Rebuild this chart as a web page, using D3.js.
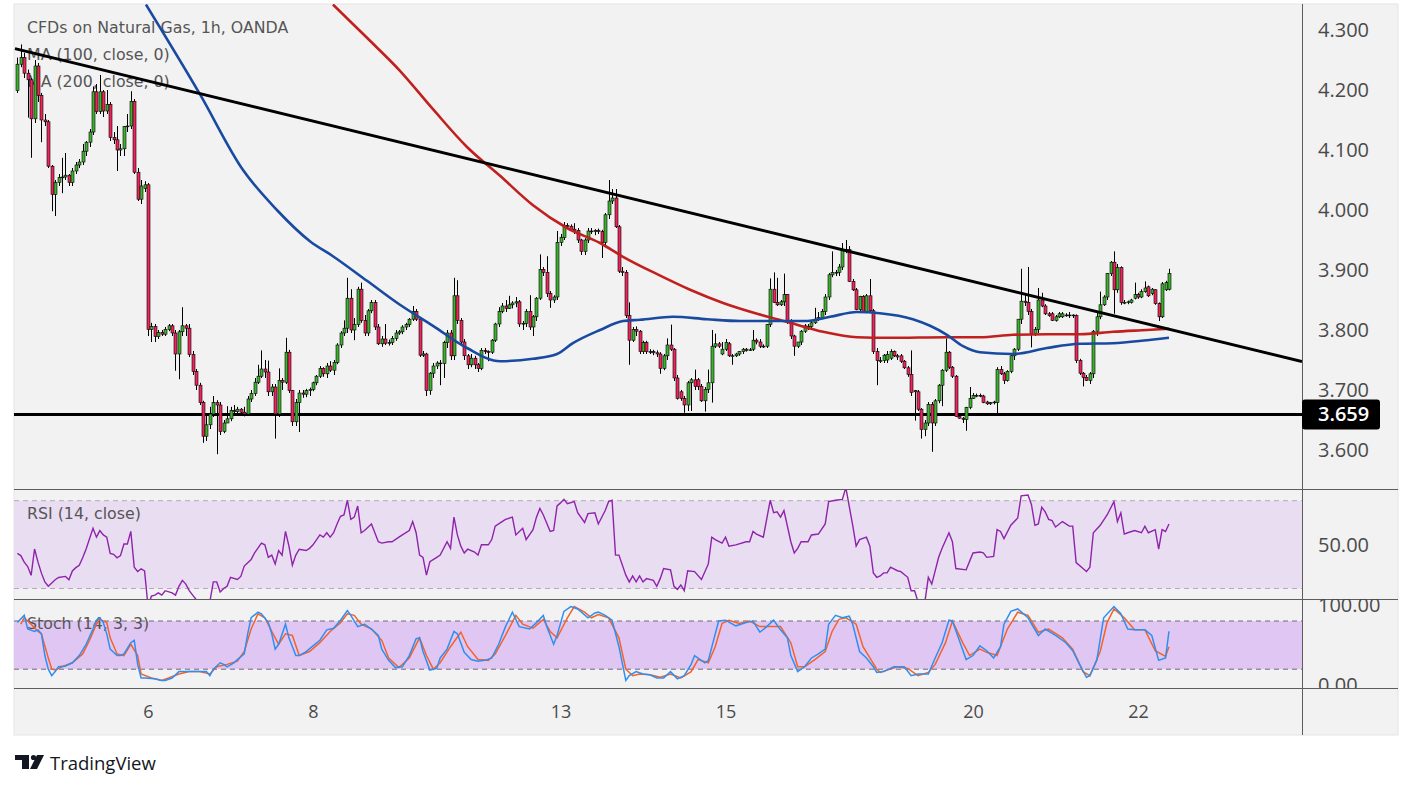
<!DOCTYPE html>
<html>
<head>
<meta charset="utf-8">
<script src="https://cdn.jsdelivr.net/npm/d3@7"></script>
<style>
body { margin: 0; background: #fff; }
svg { display: block; }
</style>
</head>
<body>
<script>
// hourly candles, one value per bar
const opens = [4.199,4.243,4.254,4.228,4.217,4.152,4.240,4.191,4.150,4.147,
4.073,4.026,4.046,4.054,4.055,4.058,4.046,4.065,4.075,4.080,
4.098,4.113,4.130,4.197,4.164,4.197,4.165,4.176,4.121,4.117,
4.100,4.102,4.139,4.140,4.181,4.063,4.018,4.036,4.042,3.801,
3.806,3.789,3.796,3.793,3.801,3.807,3.795,3.760,3.797,3.807,
3.803,3.759,3.731,3.708,3.679,3.623,3.642,3.660,3.679,3.675,
3.631,3.645,3.652,3.666,3.664,3.668,3.663,3.660,3.685,3.694,
3.713,3.723,3.735,3.730,3.697,3.705,3.660,3.716,3.713,3.763,
3.699,3.647,3.679,3.695,3.693,3.699,3.701,3.712,3.723,3.736,
3.727,3.740,3.733,3.746,3.775,3.795,3.803,3.853,3.800,3.809,
3.868,3.816,3.795,3.832,3.846,3.805,3.777,3.785,3.778,3.779,
3.786,3.795,3.797,3.805,3.809,3.818,3.831,3.818,3.758,3.760,
3.699,3.728,3.740,3.745,3.744,3.779,3.795,3.757,3.857,3.816,
3.780,3.757,3.742,3.753,3.742,3.736,3.766,3.764,3.763,3.783,
3.810,3.831,3.840,3.836,3.842,3.845,3.847,3.810,3.811,3.831,
3.805,3.822,3.853,3.901,3.896,3.861,3.850,3.855,3.946,3.954,
3.974,3.973,3.968,3.966,3.950,3.931,3.950,3.965,3.964,3.966,
3.964,3.946,3.992,4.015,4.020,3.972,3.898,3.896,3.824,3.783,
3.801,3.798,3.764,3.779,3.764,3.764,3.762,3.760,3.736,3.757,
3.775,3.768,3.720,3.697,3.686,3.675,3.712,3.717,3.717,3.706,
3.682,3.701,3.712,3.773,3.777,3.760,3.768,3.777,3.757,3.757,
3.760,3.764,3.768,3.766,3.768,3.783,3.780,3.773,3.773,3.809,
3.868,3.846,3.842,3.847,3.859,3.815,3.790,3.773,3.780,3.798,
3.805,3.806,3.812,3.818,3.821,3.831,3.855,3.892,3.896,3.896,
3.905,3.933,3.934,3.881,3.867,3.834,3.856,3.831,3.857,3.832,
3.764,3.749,3.749,3.750,3.753,3.764,3.757,3.757,3.748,3.737,
3.726,3.699,3.697,3.668,3.634,3.645,3.676,3.645,3.682,3.708,
3.733,3.763,3.738,3.723,3.656,3.653,3.651,3.671,3.686,3.691,
3.691,3.690,3.680,3.677,3.679,3.679,3.734,3.727,3.716,3.731,
3.757,3.768,3.818,3.848,3.846,3.831,3.794,3.801,3.850,3.840,
3.827,3.827,3.816,3.822,3.822,3.825,3.825,3.824,3.824,3.749,
3.728,3.721,3.716,3.727,3.798,3.822,3.842,3.855,3.894,3.913,
3.867,3.904,3.846,3.846,3.846,3.853,3.859,3.855,3.864,3.872,
3.861,3.867,3.844,3.822,3.867,3.868]

const highs = [4.254,4.276,4.262,4.234,4.220,4.250,4.245,4.195,4.160,4.150,
4.075,4.050,4.060,4.087,4.095,4.060,4.070,4.080,4.085,4.110,
4.115,4.135,4.206,4.210,4.225,4.200,4.200,4.180,4.130,4.140,
4.110,4.140,4.160,4.198,4.185,4.070,4.050,4.048,4.045,3.812,
3.810,3.800,3.800,3.805,3.810,3.810,3.800,3.800,3.838,3.810,
3.810,3.765,3.735,3.712,3.682,3.660,3.672,3.690,3.683,3.680,
3.650,3.673,3.672,3.675,3.672,3.670,3.672,3.690,3.700,3.720,
3.742,3.766,3.750,3.749,3.710,3.710,3.736,3.720,3.787,3.767,
3.700,3.685,3.700,3.700,3.702,3.704,3.714,3.725,3.740,3.738,
3.745,3.748,3.750,3.778,3.798,3.816,3.887,3.868,3.820,3.872,
3.879,3.825,3.835,3.850,3.850,3.810,3.790,3.810,3.784,3.790,
3.800,3.800,3.808,3.812,3.820,3.840,3.835,3.820,3.765,3.762,
3.730,3.745,3.748,3.750,3.782,3.800,3.800,3.887,3.883,3.820,
3.785,3.760,3.760,3.757,3.745,3.770,3.770,3.766,3.785,3.812,
3.838,3.845,3.850,3.857,3.848,3.855,3.850,3.815,3.835,3.858,
3.825,3.855,3.926,3.905,3.923,3.865,3.858,3.965,3.960,3.980,
3.978,3.976,3.978,3.970,3.952,3.953,3.970,3.970,3.968,3.969,
3.967,3.995,4.050,4.035,4.035,3.975,3.905,3.900,3.846,3.805,
3.806,3.800,3.782,3.782,3.768,3.767,3.766,3.763,3.760,3.786,
3.809,3.770,3.725,3.700,3.690,3.715,3.720,3.734,3.720,3.710,
3.705,3.734,3.800,3.794,3.780,3.780,3.785,3.780,3.760,3.762,
3.765,3.770,3.770,3.770,3.800,3.786,3.785,3.776,3.810,3.886,
3.896,3.887,3.850,3.894,3.860,3.818,3.792,3.780,3.800,3.810,
3.810,3.815,3.837,3.830,3.835,3.860,3.895,3.931,3.900,3.910,
3.945,3.950,3.940,3.885,3.870,3.857,3.858,3.860,3.885,3.835,
3.770,3.755,3.760,3.765,3.768,3.766,3.760,3.760,3.750,3.740,
3.766,3.700,3.700,3.670,3.650,3.680,3.680,3.685,3.710,3.735,
3.786,3.765,3.740,3.725,3.660,3.655,3.672,3.705,3.695,3.694,
3.694,3.692,3.682,3.680,3.682,3.738,3.740,3.730,3.733,3.758,
3.770,3.818,3.902,3.860,3.905,3.835,3.805,3.870,3.862,3.843,
3.830,3.830,3.825,3.830,3.830,3.828,3.830,3.826,3.826,3.752,
3.730,3.725,3.730,3.800,3.830,3.864,3.858,3.895,3.915,3.931,
3.910,3.906,3.850,3.849,3.852,3.879,3.862,3.868,3.881,3.874,
3.870,3.868,3.846,3.880,3.882,3.902]

const lows = [4.195,4.238,4.220,4.154,4.087,4.145,4.180,4.113,4.140,4.070,
3.998,3.990,4.040,4.028,4.050,4.040,4.040,4.060,4.070,4.075,
4.090,4.105,4.125,4.160,4.160,4.155,4.160,4.115,4.110,4.065,
4.090,4.090,4.130,4.135,4.060,4.015,4.010,4.030,3.790,3.780,
3.780,3.785,3.790,3.790,3.798,3.790,3.732,3.718,3.790,3.790,
3.755,3.725,3.700,3.675,3.612,3.615,3.635,3.655,3.593,3.625,
3.628,3.645,3.648,3.660,3.658,3.660,3.656,3.657,3.680,3.690,
3.710,3.720,3.720,3.690,3.690,3.619,3.655,3.700,3.710,3.695,
3.640,3.640,3.630,3.687,3.688,3.690,3.698,3.708,3.720,3.722,
3.720,3.730,3.725,3.743,3.770,3.790,3.795,3.795,3.783,3.805,
3.812,3.790,3.790,3.828,3.800,3.775,3.772,3.775,3.774,3.775,
3.782,3.792,3.793,3.800,3.805,3.815,3.815,3.755,3.755,3.690,
3.692,3.720,3.735,3.708,3.720,3.770,3.750,3.750,3.810,3.775,
3.750,3.735,3.738,3.735,3.730,3.733,3.760,3.748,3.760,3.780,
3.805,3.828,3.830,3.835,3.836,3.838,3.805,3.800,3.805,3.800,
3.790,3.815,3.850,3.890,3.855,3.837,3.845,3.850,3.940,3.950,
3.970,3.965,3.960,3.945,3.925,3.925,3.945,3.960,3.958,3.960,
3.920,3.940,3.985,4.010,3.970,3.895,3.890,3.820,3.742,3.780,
3.790,3.760,3.760,3.760,3.760,3.758,3.755,3.727,3.733,3.750,
3.765,3.715,3.684,3.682,3.662,3.665,3.665,3.700,3.700,3.680,
3.664,3.695,3.679,3.770,3.770,3.758,3.765,3.755,3.742,3.755,
3.757,3.760,3.764,3.765,3.765,3.776,3.770,3.770,3.770,3.805,
3.845,3.840,3.840,3.840,3.810,3.785,3.757,3.770,3.775,3.795,
3.800,3.800,3.810,3.815,3.818,3.825,3.850,3.888,3.890,3.890,
3.900,3.928,3.880,3.865,3.833,3.830,3.830,3.828,3.830,3.760,
3.708,3.745,3.745,3.745,3.750,3.755,3.750,3.745,3.735,3.722,
3.690,3.649,3.665,3.619,3.623,3.640,3.597,3.640,3.678,3.673,
3.730,3.735,3.720,3.655,3.652,3.645,3.632,3.668,3.685,3.688,
3.688,3.678,3.675,3.675,3.676,3.660,3.725,3.710,3.714,3.728,
3.750,3.765,3.810,3.840,3.825,3.771,3.790,3.795,3.838,3.825,
3.822,3.815,3.814,3.820,3.820,3.822,3.820,3.820,3.745,3.725,
3.706,3.715,3.710,3.720,3.790,3.818,3.840,3.850,3.890,3.827,
3.862,3.842,3.843,3.843,3.844,3.851,3.852,3.853,3.862,3.855,
3.858,3.842,3.815,3.820,3.865,3.866]

const closes = [4.243,4.254,4.228,4.217,4.152,4.240,4.191,4.150,4.147,4.073,
4.026,4.046,4.054,4.055,4.058,4.046,4.065,4.075,4.080,4.098,
4.113,4.130,4.197,4.164,4.197,4.165,4.176,4.121,4.117,4.100,
4.102,4.139,4.140,4.181,4.063,4.018,4.040,4.042,3.801,3.806,
3.789,3.796,3.793,3.801,3.807,3.795,3.760,3.797,3.807,3.803,
3.759,3.731,3.708,3.679,3.623,3.642,3.660,3.679,3.675,3.631,
3.645,3.652,3.666,3.664,3.668,3.663,3.660,3.685,3.694,3.713,
3.723,3.735,3.730,3.697,3.705,3.660,3.716,3.713,3.763,3.699,
3.647,3.679,3.695,3.693,3.699,3.701,3.712,3.723,3.736,3.727,
3.740,3.733,3.746,3.775,3.795,3.803,3.853,3.800,3.809,3.868,
3.816,3.795,3.832,3.846,3.805,3.777,3.785,3.778,3.779,3.786,
3.795,3.797,3.805,3.809,3.818,3.831,3.818,3.758,3.760,3.699,
3.728,3.740,3.745,3.744,3.779,3.795,3.757,3.857,3.816,3.780,
3.757,3.742,3.753,3.742,3.736,3.766,3.764,3.763,3.783,3.810,
3.831,3.840,3.836,3.842,3.845,3.847,3.810,3.811,3.831,3.805,
3.822,3.853,3.901,3.896,3.861,3.850,3.855,3.946,3.954,3.974,
3.973,3.968,3.966,3.950,3.931,3.950,3.965,3.964,3.966,3.964,
3.946,3.992,4.015,4.020,3.972,3.898,3.896,3.824,3.783,3.801,
3.798,3.764,3.779,3.764,3.764,3.762,3.760,3.736,3.757,3.775,
3.768,3.720,3.686,3.686,3.675,3.712,3.717,3.706,3.706,3.682,
3.701,3.712,3.773,3.777,3.773,3.768,3.779,3.757,3.757,3.760,
3.764,3.768,3.766,3.767,3.783,3.780,3.773,3.773,3.809,3.868,
3.846,3.842,3.847,3.859,3.815,3.790,3.773,3.780,3.798,3.807,
3.806,3.812,3.818,3.821,3.831,3.855,3.892,3.896,3.896,3.905,
3.933,3.934,3.881,3.867,3.834,3.856,3.831,3.857,3.832,3.764,
3.749,3.749,3.758,3.759,3.764,3.757,3.755,3.748,3.737,3.726,
3.696,3.697,3.668,3.634,3.645,3.676,3.645,3.682,3.708,3.733,
3.763,3.738,3.723,3.656,3.653,3.651,3.671,3.686,3.691,3.691,
3.690,3.679,3.677,3.679,3.680,3.734,3.727,3.716,3.731,3.757,
3.768,3.818,3.848,3.846,3.831,3.794,3.801,3.850,3.840,3.827,
3.824,3.816,3.822,3.827,3.827,3.825,3.824,3.825,3.749,3.728,
3.721,3.716,3.727,3.798,3.822,3.842,3.855,3.894,3.913,3.867,
3.904,3.846,3.846,3.847,3.850,3.859,3.855,3.864,3.870,3.857,
3.868,3.844,3.822,3.877,3.879,3.894]

// moving averages, read at bar positions
const ma100Bars = [37.4,53.1,65.6,75.5,85.1,91.8,101.7,111.3,120.9,130.8,140.4,150,157,161.6,169.5,176.2,181.1,190.7,200.6,210.2,219.8,229.7,236.4,244.3,250.9,260.5,265.5,270.4,275.1,280,289.6,299.5,309.1,318.7,328.6,335]
const ma100Vals = [4.3425,4.193,4.067,4.000,3.948,3.923,3.882,3.842,3.807,3.770,3.748,3.752,3.760,3.778,3.800,3.815,3.817,3.822,3.818,3.815,3.815,3.815,3.822,3.830,3.828,3.818,3.807,3.792,3.773,3.763,3.760,3.770,3.777,3.778,3.783,3.787]
const ma200Bars = [91.8,101.7,111.3,120.9,130.8,140.4,150,159.9,169.5,176.2,186.1,195.7,205.3,215.2,224.8,234.4,244.3,253.9,270.4,280,289.6,299.5,309.1,318.7,328.6,335]
const ma200Vals = [4.3425,4.287,4.232,4.168,4.105,4.057,4.008,3.970,3.945,3.922,3.893,3.867,3.845,3.827,3.812,3.797,3.788,3.787,3.788,3.788,3.792,3.793,3.793,3.797,3.800,3.802]

// drawn trend line and support level
const trendBars = [-0.7, 373.7]
const trendPrices = [4.269, 3.7475]
const supportLevel = 3.659

// RSI (14)
const rsiBars = [0,1,2,3,4,5,6,7,8,9,11,12,14,15,16,17,18,19,20,22,23,24,25,26,27,28,29,30,31,32,33,34,35,36,37,38,39,40,41,42,43,45,46,47,48,49,50,51,52,53,54,55,56,57,58,59,60,61,62,64,65,66,68,69,71,72,73,74,75,76,77,78,79,80,81,82,84,85,86,88,89,90,91,92,93,94,95,96,97,98,99,100,101,103,105,106,108,109,111,112,114,115,116,117,118,119,120,122,123,125,126,127,128,129,130,131,133,134,135,137,138,139,141,142,144,145,147,148,150,151,152,153,155,156,157,158,159,160,162,163,165,166,168,169,171,172,173,174,175,177,178,179,180,181,182,183,185,186,187,188,190,191,192,193,194,195,197,199,201,202,203,205,206,207,209,212,213,214,215,217,219,220,221,222,223,225,226,227,228,230,231,233,235,236,238,240,241,243,244,245,247,248,249,250,251,252,253,254,256,257,259,260,261,262,263,264,265,266,268,269,271,272,273,276,278,280,281,282,284,285,286,287,289,291,292,294,295,296,297,298,299,300,301,302,304,306,307,308,310,311,312,313,315,317,319,320,321,322,323,325,327,328,329,331,332,333,334,335]
const rsiVals = [46,45,42,40,36,48,42,37,33,31,34,35,35.5,34,38,39.5,40.6,44,48,57.4,53.4,56.4,54.4,53.4,46,45.6,44,45,50.3,50.3,56,39.7,37.7,39,38,22,26.5,27,28,27,29,28,27,31,33.7,32,29,27,25,21,18,21,24,33,33,28.4,30,31,35.1,34.1,35.5,40.2,43.2,46.2,50.7,49.9,44.2,45.2,41.2,47.3,45.2,56,49.3,40.6,45.2,47.9,47.3,48.3,49.9,54.4,53.4,55.4,53.4,55.4,59.4,62.9,63.5,70.2,61.5,62.5,67.6,55.4,56.4,59.4,51.3,50.7,51.3,51.3,53.4,54.4,56.4,60.5,55.4,45.2,44.2,36.1,42.2,44.2,45.2,51.3,48.3,62.5,54.4,49.3,46.2,47.9,46.6,45.2,49.9,49.9,52.3,58.4,60.5,61.5,62.5,54.4,57.4,52.3,56.8,62.5,66.5,63.5,56,56.4,67.6,69,70.6,68.6,69.6,64.5,60.1,64.1,64.5,59.4,65.5,69.6,70.2,45.2,45.2,36.1,33,35.7,33,35.7,33,34.5,33.7,31,34.5,39.1,38.5,31,29.6,31.6,29,38.1,37.7,34.1,41.2,53.4,52.3,50.7,53.4,49.3,49.9,51.3,51.3,56,54.8,53.4,70.2,64.5,64.9,62.5,65.5,51.3,46.2,48.3,51.3,51.3,54.4,54.8,59.4,69.6,70.2,70.6,76,58.8,49.3,52.3,53.4,49.3,37.1,35.1,35.7,37.1,37.1,39.7,38.1,37.7,35.1,29,29,24,22,24,35.1,32,44.2,48.3,55.4,51.3,39.1,38.5,46.2,46.6,46.2,44.2,44.6,56.8,56,52.7,58.8,62.1,72.2,72.6,68.2,58.8,59.4,67,64.9,61.5,60.9,58,60.5,58.4,58.4,41.8,39.1,37.7,39.7,55.4,58.8,63.5,69.6,60.5,64.5,54.8,55.4,56.4,55.4,58.4,55.4,56.8,47.9,56.8,56,59.4]

// Stochastic (14, 3, 3): %K and %D
const kBars = [0,2,3,5,6,7,8,9,10,11,12,14,16,18,20,22,23,24,25,26,27,29,30,31,33,34,35,36,37,40,42,43,45,47,49,51,53,55,56,57,59,60,61,63,64,66,67,68,70,71,73,74,75,76,78,79,81,82,84,86,88,90,92,94,96,97,99,101,103,105,106,108,110,112,114,116,117,118,120,122,123,125,127,128,130,132,134,136,138,140,142,144,146,149,151,153,154,156,157,159,161,163,166,168,169,171,173,175,177,178,180,182,184,186,188,190,192,194,196,197,200,201,204,206,209,212,214,216,218,220,222,224,225,227,229,231,233,235,236,238,240,242,243,245,247,249,250,252,255,258,260,262,265,267,269,271,272,274,276,278,280,282,284,286,287,289,291,294,297,299,302,305,307,309,311,312,314,316,319,321,323,325,328,330,332,334,335]
const kVals = [78,87,70,67,69,64,37,20,12,17,23,24,28,37,51,70,81,84,78,64,45,37,37,39,53,56,26,9,9,8,6,6,9,17,17,17,17,17,12,20,28,26,23,28,32,39,64,84,91,89,78,64,45,51,76,59,37,37,42,49,56,69,71,81,93,87,73,76,70,62,45,31,22,23,37,58,59,42,19,21,34,45,67,64,41,32,30,31,34,51,73,91,73,70,78,87,73,51,62,92,98,95,84,90,91,87,81,48,6,12,17,14,13,9,9,17,8,12,26,37,28,31,80,81,74,78,80,66,73,81,69,59,37,17,23,34,39,45,76,87,84,86,76,42,34,23,16,17,23,23,12,14,14,34,53,81,80,56,32,37,49,43,34,48,76,92,95,84,62,70,62,53,43,26,10,12,31,84,98,89,70,69,69,62,31,34,67]
const dBars = [1,2,4,6,7,9,10,11,13,16,19,21,23,24,26,27,29,31,33,35,36,39,42,44,47,50,53,56,58,61,64,66,68,70,72,74,76,78,80,82,85,88,91,94,96,98,100,103,106,108,111,114,117,119,121,123,126,129,131,134,137,139,142,145,147,150,153,155,157,160,162,165,167,169,172,175,177,179,181,184,187,190,193,196,198,201,203,205,207,210,213,216,219,222,225,227,229,232,235,237,239,241,244,246,248,250,251,253,256,259,262,265,267,270,272,275,277,280,282,285,288,291,294,297,300,304,307,310,312,315,317,319,322,325,328,331,334,335]
const dVals = [76,84,76,67,64,34,20,19,23,28,39,56,76,82,78,59,39,37,51,37,14,9,6,9,14,17,17,14,23,26,30,42,70,89,84,67,51,64,62,37,42,53,67,78,89,87,76,70,56,34,22,34,59,37,20,28,48,66,48,32,31,39,62,87,76,71,82,67,59,84,98,91,84,88,84,59,20,12,14,13,10,14,9,17,32,28,48,77,81,77,80,73,73,73,53,23,23,32,42,67,82,84,76,48,34,20,16,19,23,21,12,16,26,53,80,53,37,45,41,37,70,91,87,66,70,59,45,17,12,42,78,95,84,69,69,43,36,48]

const priceTicks = [3.6, 3.7, 3.8, 3.9, 4.0, 4.1, 4.2, 4.3]
const dayBars = [38, 86, 158, 206, 278, 326]
const dayLabels = ["6", "8", "13", "15", "20", "22"]
const legendLines = ["CFDs on Natural Gas, 1h, OANDA", "MA (100, close, 0)", "MA (200, close, 0)"]

const WIDTH = 1413, HEIGHT = 789
const FRAME = { LEFT: 14, RIGHT: 1398, TOP: 4, BOTTOM: 735 }
const PLOT_RIGHT = 1302
const MAIN = { TOP: 4, BOTTOM: 489 }
const RSI = { TOP: 489, BOTTOM: 599 }
const STOCH = { TOP: 599, BOTTOM: 688 }
const TEXT = "#4a4a4a"
const LEGEND_FONT = "'DejaVu Sans', Verdana, sans-serif"
const UP = "#3db22e", DOWN = "#f0245c"

const svg = d3.select("body").append("svg")
  .attr("width", WIDTH)
  .attr("height", HEIGHT)
  .style("font-family", "'Open Sans', sans-serif")

const defs = svg.append("defs")
function clip(id, x0, y0, x1, y1) {
  defs.append("clipPath").attr("id", id)
    .append("rect").attr("x", x0).attr("y", y0).attr("width", x1 - x0).attr("height", y1 - y0)
  return `url(#${id})`
}
const clipMain = clip("cMain", FRAME.LEFT, MAIN.TOP, PLOT_RIGHT, MAIN.BOTTOM)
const clipRsi = clip("cRsi", FRAME.LEFT, RSI.TOP, PLOT_RIGHT, RSI.BOTTOM)
const clipStoch = clip("cStoch", FRAME.LEFT, STOCH.TOP, PLOT_RIGHT, STOCH.BOTTOM)
const clipStochAxis = clip("cStochAx", PLOT_RIGHT, STOCH.TOP, FRAME.RIGHT, STOCH.BOTTOM)
const clipRsiAxis = clip("cRsiAx", PLOT_RIGHT, RSI.TOP, FRAME.RIGHT, RSI.BOTTOM)

const x = d3.scaleLinear().domain([-0.98, 373.7]).range([FRAME.LEFT, PLOT_RIGHT])
const y = d3.scaleLinear().domain([3.6, 4.3]).range([450, 30])
const yRsi = d3.scaleLinear().domain([30, 70]).range([588.5, 500.7])
const yStoch = d3.scaleLinear().domain([20, 80]).range([669.2, 621.0])

// background frame
svg.append("rect")
  .attr("x", FRAME.LEFT).attr("y", FRAME.TOP)
  .attr("width", FRAME.RIGHT - FRAME.LEFT).attr("height", FRAME.BOTTOM - FRAME.TOP)
  .attr("fill", "#f2f2f2").attr("stroke", "#e3e4ea")

// legend text sits under the series
svg.append("g").selectAll("text").data(legendLines).join("text")
  .attr("x", 27).attr("y", (d, i) => 33 + i * 27)
  .attr("font-family", LEGEND_FONT).attr("font-size", 15.8).attr("fill", "#555")
  .text(d => d)

// indicator bands
svg.append("rect")
  .attr("x", FRAME.LEFT).attr("y", yRsi(70)).attr("width", PLOT_RIGHT - FRAME.LEFT)
  .attr("height", yRsi(30) - yRsi(70)).attr("fill", "#e9ddf2")
svg.append("rect")
  .attr("x", FRAME.LEFT).attr("y", yStoch(80)).attr("width", PLOT_RIGHT - FRAME.LEFT)
  .attr("height", yStoch(20) - yStoch(80)).attr("fill", "#e0c7f3")
svg.append("g").selectAll("line").data([70, 30]).join("line")
  .attr("x1", FRAME.LEFT).attr("x2", PLOT_RIGHT)
  .attr("y1", d => yRsi(d)).attr("y2", d => yRsi(d))
  .attr("stroke", "#b3a8bd").attr("stroke-dasharray", "5,4")
svg.append("g").selectAll("line").data([80, 20]).join("line")
  .attr("x1", FRAME.LEFT).attr("x2", PLOT_RIGHT)
  .attr("y1", d => yStoch(d)).attr("y2", d => yStoch(d))
  .attr("stroke", "#6f6a78").attr("stroke-dasharray", "5,4")

svg.append("text").attr("x", 27).attr("y", 519).attr("font-family", LEGEND_FONT)
  .attr("font-size", 15.8).attr("fill", "#555").text("RSI (14, close)")
svg.append("text").attr("x", 27).attr("y", 629).attr("font-family", LEGEND_FONT)
  .attr("font-size", 15.8).attr("fill", "#555").text("Stoch (14, 3, 3)")

// main pane
const main = svg.append("g").attr("clip-path", clipMain)

main.append("line")
  .attr("x1", FRAME.LEFT).attr("x2", PLOT_RIGHT)
  .attr("y1", y(supportLevel)).attr("y2", y(supportLevel))
  .attr("stroke", "#000").attr("stroke-width", 3)

const bars = d3.range(closes.length)
const candle = main.append("g").selectAll("g").data(bars).join("g")
candle.append("line")
  .attr("x1", i => Math.round(x(i)) + 0.5).attr("x2", i => Math.round(x(i)) + 0.5)
  .attr("y1", i => y(highs[i])).attr("y2", i => y(lows[i]))
  .attr("stroke", "#000").attr("stroke-width", 1)
candle.append("rect")
  .attr("x", i => Math.round(x(i)) - 1)
  .attr("width", 3)
  .attr("y", i => y(Math.max(opens[i], closes[i])))
  .attr("height", i => Math.max(0.8, Math.abs(y(opens[i]) - y(closes[i]))))
  .attr("fill", i => closes[i] >= opens[i] ? UP : DOWN)
  .attr("stroke", "#000").attr("stroke-width", 0.6)

const maLine = d3.line().x(d => x(d[0])).y(d => y(d[1])).curve(d3.curveMonotoneX)
main.append("path").datum(d3.zip(ma200Bars, ma200Vals))
  .attr("d", maLine).attr("fill", "none").attr("stroke", "#c0201e").attr("stroke-width", 2.6)
main.append("path").datum(d3.zip(ma100Bars, ma100Vals))
  .attr("d", maLine).attr("fill", "none").attr("stroke", "#1a4aa0").attr("stroke-width", 2.6)

main.append("line")
  .attr("x1", x(trendBars[0])).attr("y1", y(trendPrices[0]))
  .attr("x2", x(trendBars[1])).attr("y2", y(trendPrices[1]))
  .attr("stroke", "#000").attr("stroke-width", 3)

// RSI pane
svg.append("g").attr("clip-path", clipRsi)
  .append("path").datum(d3.zip(rsiBars, rsiVals))
  .attr("d", d3.line().x(d => x(d[0])).y(d => yRsi(d[1])))
  .attr("fill", "none").attr("stroke", "#8e24aa").attr("stroke-width", 1.4)

// Stoch pane
const stochG = svg.append("g").attr("clip-path", clipStoch)
const stochLine = d3.line().x(d => x(d[0])).y(d => yStoch(d[1]))
stochG.append("path").datum(d3.zip(dBars, dVals))
  .attr("d", stochLine).attr("fill", "none").attr("stroke", "#f4622a").attr("stroke-width", 1.5)
stochG.append("path").datum(d3.zip(kBars, kVals))
  .attr("d", stochLine).attr("fill", "none").attr("stroke", "#2f8ff0").attr("stroke-width", 1.5)

// separators
svg.append("g").selectAll("line").data([MAIN.BOTTOM, RSI.BOTTOM, STOCH.BOTTOM]).join("line")
  .attr("x1", FRAME.LEFT).attr("x2", FRAME.RIGHT)
  .attr("y1", d => d + 0.5).attr("y2", d => d + 0.5)
  .attr("stroke", "#5d5d5d")
svg.append("line")
  .attr("x1", PLOT_RIGHT + 0.5).attr("x2", PLOT_RIGHT + 0.5)
  .attr("y1", FRAME.TOP).attr("y2", FRAME.BOTTOM)
  .attr("stroke", "#5d5d5d")

// axes
function styleAxis(g) {
  g.select(".domain").remove()
  g.selectAll("text").attr("fill", TEXT).attr("font-family", "'Open Sans', sans-serif")
}
svg.append("g").attr("transform", `translate(${PLOT_RIGHT},0)`)
  .call(d3.axisRight(y).tickValues(priceTicks).tickFormat(d3.format(".3f")).tickSize(0).tickPadding(16))
  .call(styleAxis)
  .selectAll("text").attr("font-size", 20)

svg.append("g").attr("clip-path", clipRsiAxis)
  .append("g").attr("transform", `translate(${PLOT_RIGHT},0)`)
  .call(d3.axisRight(yRsi).tickValues([50]).tickFormat(d3.format(".2f")).tickSize(0).tickPadding(16))
  .call(styleAxis)
  .selectAll("text").attr("font-size", 20)

svg.append("g").attr("clip-path", clipStochAxis)
  .append("g").attr("transform", `translate(${PLOT_RIGHT},0)`)
  .call(d3.axisRight(yStoch).tickValues([0, 100]).tickFormat(d3.format(".2f")).tickSize(0).tickPadding(16))
  .call(styleAxis)
  .selectAll("text").attr("font-size", 20)

svg.append("g").attr("transform", `translate(0,${STOCH.BOTTOM})`)
  .call(d3.axisBottom(x).tickValues(dayBars).tickFormat((d, i) => dayLabels[i]).tickSize(0).tickPadding(17))
  .call(styleAxis)
  .selectAll("text").attr("font-size", 18)

// support level price tag
const tag = svg.append("g").attr("transform", `translate(${PLOT_RIGHT},${y(supportLevel)})`)
tag.append("rect").attr("x", 0).attr("y", -15).attr("width", 78).attr("height", 30).attr("rx", 3).attr("fill", "#000")
tag.append("text").attr("x", 16).attr("dy", "0.34em").attr("font-size", 20).attr("font-weight", 600)
  .attr("fill", "#fff").text(d3.format(".3f")(supportLevel))

// TradingView mark
const logo = svg.append("g").attr("fill", "#131722")
logo.append("path").attr("d", "M15,755H29V769H22V760H15Z")
logo.append("circle").attr("cx", 33.5).attr("cy", 757.5).attr("r", 2.6)
logo.append("path").attr("d", "M37,755H44L37,769H30Z")
logo.append("text").attr("x", 50).attr("y", 770).attr("font-size", 18.5).text("TradingView")
</script>
</body>
</html>
